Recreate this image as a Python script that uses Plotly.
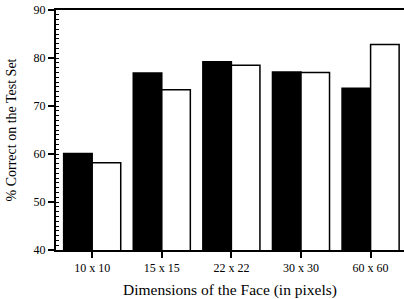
import plotly.graph_objects as go

categories = ["10 x 10", "15 x 15", "22 x 22", "30 x 30", "60 x 60"]
series_black = [60.1, 76.9, 79.2, 77.1, 73.7]
series_white = [58.2, 73.4, 78.5, 77.0, 82.8]
y_ticks = [40, 50, 60, 70, 80, 90]

FONT = "Liberation Serif"

fig = go.Figure()
fig.add_trace(go.Bar(x=categories, y=series_black, marker=dict(color="black", line=dict(color="black", width=1.5)), showlegend=False))
fig.add_trace(go.Bar(x=categories, y=series_white, marker=dict(color="white", line=dict(color="black", width=1.5)), showlegend=False))
fig.add_trace(go.Scatter(x=categories, y=series_black, yaxis="y2", mode="markers",
                         marker=dict(opacity=0, size=1), showlegend=False, hoverinfo="skip"))

fig.update_layout(
    width=404, height=299,
    margin=dict(l=56, r=0, t=10, b=49),
    paper_bgcolor="white", plot_bgcolor="white",
    barmode="group", bargap=0.18, bargroupgap=0,
    font=dict(family=FONT, color="black", size=12),
    yaxis=dict(
        range=[y_ticks[0], y_ticks[-1]], tickmode="linear", tick0=y_ticks[0], dtick=y_ticks[1] - y_ticks[0],
        automargin=False,
        showline=True, linecolor="black", linewidth=2,
        ticks="outside", ticklen=6, tickcolor="black", tickwidth=1.5,
        showgrid=False, zeroline=False,
        tickfont=dict(family=FONT, size=12),
        title=dict(text="% Correct on the Test Set", font=dict(family=FONT, size=14), standoff=14),
    ),
    yaxis2=dict(
        overlaying="y", side="left", anchor="x", range=[y_ticks[0], y_ticks[-1]],
        tickmode="linear", tick0=y_ticks[0], dtick=1,
        ticks="inside", ticklen=3, tickwidth=1, tickcolor="black",
        showticklabels=False, showgrid=False, zeroline=False, showline=False,
        automargin=False,
    ),
)
fig.update_xaxes(
    type="category", range=[-0.52, 4.48], automargin=False,
    showline=True, linecolor="black", linewidth=1.5, mirror=True,
    ticks="outside", ticklen=6, tickcolor="black", tickwidth=1.5,
    showgrid=False, zeroline=False,
    tickfont=dict(family=FONT, size=12),
    title=dict(text="Dimensions of the Face (in pixels)", font=dict(family=FONT, size=15.5), standoff=14),
)

fig.write_html(
    "out.html",
    config={"displayModeBar": False},
    post_script="document.body.style.margin='0';document.body.style.overflow='hidden';",
)
